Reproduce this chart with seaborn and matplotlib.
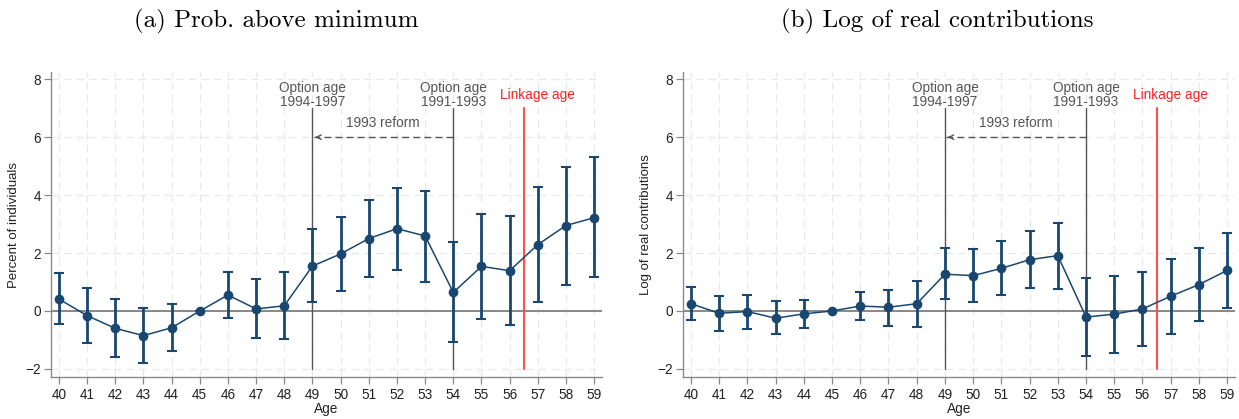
import numpy as np
import pandas as pd
import matplotlib
matplotlib.use("Agg")
import matplotlib.pyplot as plt
import seaborn as sns

# Event-study coefficients by age with 95% confidence bounds
ages = list(range(40, 60))

prob_coef = [0.41, -0.16, -0.60, -0.85, -0.58, 0.00, 0.55, 0.07, 0.18, 1.55,
             1.97, 2.50, 2.84, 2.59, 0.64, 1.54, 1.39, 2.29, 2.95, 3.22]
prob_hi = [1.30, 0.80, 0.41, 0.09, 0.23, 0.00, 1.35, 1.09, 1.36, 2.82,
           3.26, 3.82, 4.26, 4.15, 2.37, 3.35, 3.28, 4.28, 4.98, 5.31]
prob_lo = [-0.46, -1.12, -1.58, -1.78, -1.38, 0.00, -0.23, -0.92, -0.98, 0.30,
           0.70, 1.18, 1.42, 1.01, -1.08, -0.27, -0.48, 0.31, 0.91, 1.16]

log_coef = [0.25, -0.08, -0.02, -0.25, -0.10, 0.00, 0.17, 0.13, 0.25, 1.27,
            1.22, 1.47, 1.77, 1.91, -0.21, -0.11, 0.07, 0.51, 0.91, 1.40]
log_hi = [0.82, 0.53, 0.56, 0.33, 0.37, 0.00, 0.67, 0.74, 1.05, 2.16,
          2.14, 2.43, 2.77, 3.05, 1.13, 1.22, 1.36, 1.81, 2.16, 2.69]
log_lo = [-0.31, -0.69, -0.61, -0.81, -0.59, 0.00, -0.31, -0.51, -0.54, 0.40,
          0.30, 0.54, 0.78, 0.77, -1.54, -1.46, -1.22, -0.79, -0.36, 0.11]

titles = ["(a) Prob. above minimum", "(b) Log of real contributions"]
ylabels = ["Percent of individuals", "Log of real contributions"]
yticks = [-2, 0, 2, 4, 6, 8]

option_new = 49
option_old = 54
linkage = 56.5

sns.set_theme(style="white")
plt.rcParams["font.family"] = ["Liberation Sans", "DejaVu Sans"]

navy = "#1a476f"
grey_txt = "#555555"
axis_grey = "#8a8a8a"

fig = plt.figure(figsize=(12.39, 4.19), dpi=100)
ax_left = fig.add_axes([0.0412, 0.1002, 0.4447, 0.728])
ax_right = fig.add_axes([0.5513, 0.1002, 0.4455, 0.728])

panels = [
    (ax_left, prob_coef, prob_lo, prob_hi),
    (ax_right, log_coef, log_lo, log_hi),
]

for i, (ax, coef, lo, hi) in enumerate(panels):
    df = pd.DataFrame({"Age": ages, "coef": coef, "lo": lo, "hi": hi})

    # light dashed grid
    for yv in yticks:
        ax.axhline(yv, color="#e8e8e8", lw=0.9, ls=(0, (6, 4)), zorder=0)
    for xv in ages:
        ax.axvline(xv, color="#e8e8e8", lw=0.9, ls=(0, (6, 4)), zorder=0)
    ax.axhline(0, color="#7f7f7f", lw=1.3, zorder=1)

    # confidence intervals
    ax.errorbar(df["Age"], df["coef"],
                yerr=[df["coef"] - df["lo"], df["hi"] - df["coef"]],
                fmt="none", ecolor=navy, elinewidth=2.0, capsize=3.5,
                capthick=1.5, zorder=3)
    # point estimates connected by a line
    sns.lineplot(data=df, x="Age", y="coef", ax=ax, color=navy, lw=1.1,
                 marker="o", markersize=7, markeredgewidth=0,
                 zorder=4, errorbar=None)

    # reference lines
    ax.plot([option_new, option_new], [-2, 7.0], color=grey_txt, lw=1.0, zorder=2)
    ax.plot([option_old, option_old], [-2, 7.0], color=grey_txt, lw=1.0, zorder=2)
    ax.plot([linkage, linkage], [-2, 7.0], color="#ff5050", lw=1.5, zorder=2)

    ax.text(option_new, 7.46, "Option age\n1994-1997", ha="center", va="center",
            fontsize=9.8, color=grey_txt, linespacing=0.95)
    ax.text(option_old, 7.46, "Option age\n1991-1993", ha="center", va="center",
            fontsize=9.8, color=grey_txt, linespacing=0.95)
    ax.text(57.0, 7.46, "Linkage age", ha="center", va="center",
            fontsize=9.8, color="#ff2020")

    # reform arrow
    ax.plot([option_old, option_new + 0.05], [6, 6], color=grey_txt, lw=1.0,
            ls=(0, (5, 3)), zorder=2)
    ax.annotate("", xy=(option_new, 6), xytext=(option_new + 0.3, 6),
                arrowprops=dict(arrowstyle="->", color=grey_txt, lw=1.0,
                                mutation_scale=8), zorder=2)
    ax.text(51.5, 6.48, "1993 reform", ha="center", va="center",
            fontsize=9.8, color=grey_txt)

    ax.set_xlim(39.72, 59.28)
    ax.set_ylim(-2.28, 8.25)
    ax.set_xticks(ages)
    ax.set_yticks(yticks)
    ax.set_xlabel("Age", fontsize=9.8, labelpad=0, color="#222222")
    ax.set_ylabel(ylabels[i], fontsize=9.5, labelpad=4, color="#222222")
    ax.tick_params(axis="both", which="major", length=5, width=0.9,
                   color=axis_grey, labelsize=9.8, labelcolor="#222222",
                   direction="out", bottom=True, left=True)
    ax.tick_params(axis="x", pad=3)
    ax.tick_params(axis="y", pad=2)
    for side in ["top", "right"]:
        ax.spines[side].set_visible(False)
    for side in ["left", "bottom"]:
        ax.spines[side].set_color(axis_grey)
        ax.spines[side].set_linewidth(1.0)
    ax.grid(False)

fig.text(276 / 1239, 1 - 21 / 419, titles[0], ha="center", va="center",
         family="cmr10", fontsize=18, color="black")
fig.text(937 / 1239, 1 - 21 / 419, titles[1], ha="center", va="center",
         family="cmr10", fontsize=18, color="black")

fig.savefig("out.png", dpi=100, facecolor="white")
